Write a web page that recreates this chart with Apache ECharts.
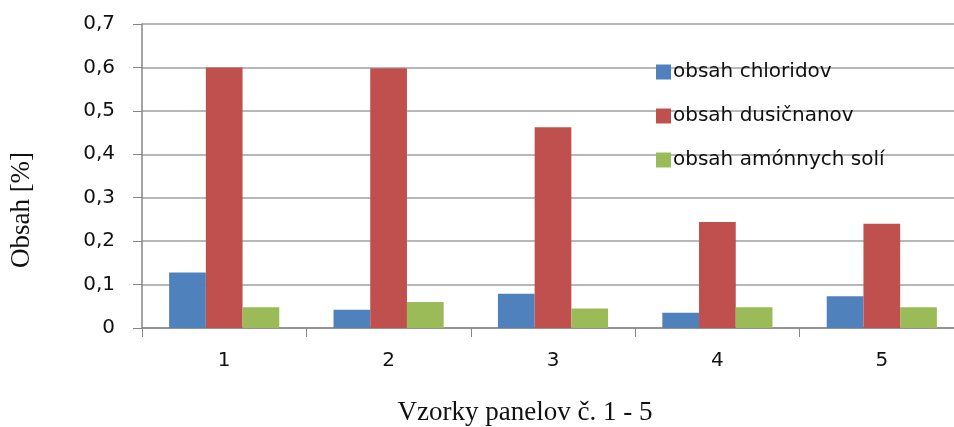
<!DOCTYPE html>
<html><head><meta charset="utf-8">
<script src="https://cdn.jsdelivr.net/npm/echarts@6/dist/echarts.min.js"></script>
<style>html,body{margin:0;padding:0;background:#fff;overflow:hidden;width:954px;height:427px}#c{width:975px;height:427px}</style>
</head><body><div id="c"></div>
<script>
const categories = ['1', '2', '3', '4', '5'];
const chloridy = [0.128, 0.042, 0.079, 0.035, 0.073];
const dusicnany = [0.600, 0.598, 0.462, 0.244, 0.240];
const amonneSoli = [0.048, 0.060, 0.045, 0.048, 0.048];
const seriesNames = ['obsah chloridov', 'obsah dusičnanov', 'obsah amónnych solí'];
const yTitle = 'Obsah [%]';
const xTitle = 'Vzorky panelov č. 1 - 5';

const chart = echarts.init(document.getElementById('c'));
const sansFont = 'DejaVu Sans, Verdana, sans-serif';
const serifFont = 'Liberation Serif, Times New Roman, serif';
const colors = ['#4F81BD', '#C0504D', '#9BBB59'];
function mk(name, data, i) {
  return {name, type: 'bar', data, barGap: '0%', barCategoryGap: '33%',
    itemStyle: {color: colors[i]}};
}
chart.setOption({
  animation: false,
  textStyle: {fontFamily: sansFont},
  grid: {left: 142, top: 24, width: 822, height: 304, containLabel: false},
  legend: {
    orient: 'vertical', left: 651, top: 57, itemGap: 24,
    itemWidth: 15, itemHeight: 15, icon: 'rect',
    textStyle: {fontSize: 20, color: '#111', fontFamily: sansFont, padding: [0, 0, 0, -3]},
    data: seriesNames
  },
  xAxis: {
    type: 'category', data: categories,
    axisLine: {lineStyle: {color: '#868686', width: 1.5}},
    axisTick: {show: true, length: 9, lineStyle: {color: '#868686'}},
    axisLabel: {fontSize: 20, color: '#111', margin: 23}
  },
  yAxis: {
    type: 'value', min: 0, max: 0.7, interval: 0.1,
    axisLine: {show: true, lineStyle: {color: '#868686', width: 1.5}},
    axisTick: {show: true, length: 9, lineStyle: {color: '#868686'}},
    splitLine: {lineStyle: {color: '#A0A0A0', width: 1.5}},
    axisLabel: {fontSize: 20, color: '#111', margin: 27,
      formatter: v => (Math.round(v*10)/10).toString().replace('.', ',')}
  },
  graphic: [
    {type: 'text', x: 22, y: 210, rotation: Math.PI/2,
      style: {text: yTitle, font: '27px ' + serifFont, fill: '#111', align: 'center', verticalAlign: 'middle'}},
    {type: 'text', x: 525, y: 413,
      style: {text: xTitle, font: '27px ' + serifFont, fill: '#111', align: 'center', verticalAlign: 'middle'}}
  ],
  series: [mk(seriesNames[0], chloridy, 0), mk(seriesNames[1], dusicnany, 1), mk(seriesNames[2], amonneSoli, 2)]
});
</script></body></html>
